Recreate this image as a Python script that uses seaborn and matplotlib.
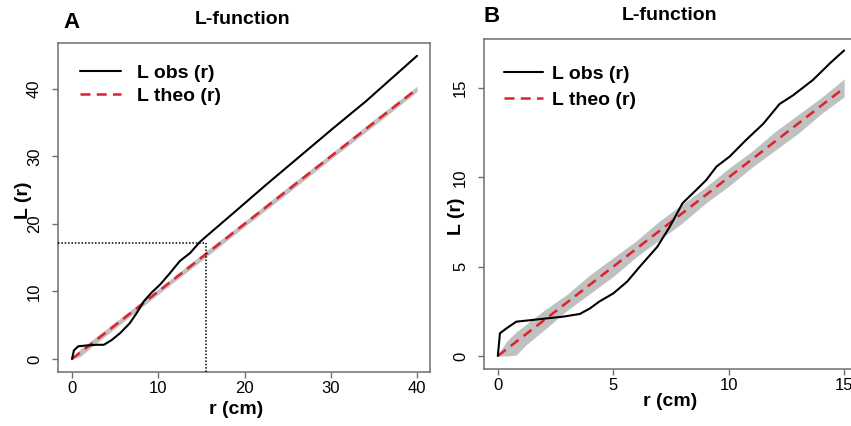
import matplotlib
matplotlib.use("Agg")
import matplotlib.pyplot as plt
import seaborn as sns
import pandas as pd

# ---------------- data ----------------
# Panel A : observed L-function
r_obs_A = [0, 0.23, 0.73, 1.7, 2.85, 3.7, 4.6, 5.6, 6.7, 7.5, 8.3, 9.2, 10.2,
           11.35, 12.5, 13.7, 14.8, 15.6, 18.7, 22.5, 26.4, 30.3, 34.1, 37.0, 40.0]
L_obs_A = [0, 1.28, 1.88, 2.0, 2.1, 2.1, 2.8, 3.85, 5.3, 6.8, 8.5, 9.8, 11.0,
           12.7, 14.5, 15.7, 17.3, 18.2, 21.6, 25.8, 30.0, 34.2, 38.2, 41.5, 44.9]
# Panel A : theoretical line and envelope
r_theo_A = [0, 40]
L_theo_A = [0, 40]
r_env_A = [0, 1, 2, 5, 10, 15, 20, 25, 30, 35, 40]
hi_env_A = [0.3, 1.5, 2.5, 5.45, 10.4, 15.45, 20.4, 25.45, 30.4, 35.45, 40.4]
lo_env_A = [0.0, 0.4, 1.5, 4.55, 9.6, 14.55, 19.6, 24.55, 29.6, 34.55, 39.6]
# dotted reference lines in A
ref_r_A = 15.5
ref_L_A = 17.2

# Panel B : observed L-function
r_obs_B = [0, 0.09, 0.38, 0.8, 1.4, 2.1, 2.83, 3.55, 4.0, 4.4, 5.0, 5.6, 6.15,
           6.9, 7.45, 8.0, 8.6, 9.03, 9.47, 10.04, 10.76, 11.5, 12.2, 12.8,
           13.65, 14.4, 15.0]
L_obs_B = [0, 1.27, 1.55, 1.92, 2.0, 2.1, 2.2, 2.35, 2.67, 3.05, 3.5, 4.16, 5.0,
           6.1, 7.24, 8.55, 9.3, 9.85, 10.6, 11.16, 12.1, 13.0, 14.1, 14.6,
           15.45, 16.4, 17.1]
# Panel B : theoretical line and envelope
r_theo_B = [0, 15]
L_theo_B = [0, 15]
r_env_B = [0, 0.4, 0.8, 1.2, 2, 3, 4, 5, 6, 7, 8, 9, 10, 11, 12, 13, 14, 15]
hi_env_B = [0.1, 0.85, 1.35, 1.75, 2.55, 3.45, 4.55, 5.5, 6.45, 7.55, 8.5, 9.45,
            10.5, 11.45, 12.55, 13.5, 14.45, 15.5]
lo_env_B = [0.0, 0.0, 0.05, 0.6, 1.45, 2.55, 3.5, 4.45, 5.55, 6.5, 7.45, 8.55,
            9.5, 10.55, 11.5, 12.45, 13.55, 14.5]

xticks_A = [0, 10, 20, 30, 40]
yticks_A = [0, 10, 20, 30, 40]
xticks_B = [0, 5, 10, 15]
yticks_B = [0, 5, 10, 15]

title_text = "L-function"
xlabel_text = "r (cm)"
ylabel_text = "L (r)"
legend_labels = ["L obs (r)", "L theo (r)"]

# ---------------- style ----------------
sns.set_theme(style="ticks")
plt.rcParams["font.family"] = ["Liberation Sans", "DejaVu Sans"]
plt.rcParams["text.color"] = "black"
plt.rcParams["xtick.labelcolor"] = "black"
plt.rcParams["ytick.labelcolor"] = "black"

FRAME = "#6e6e6e"
RED = "#e0202a"
GREY = "#c0c0c0"

fig = plt.figure(figsize=(8.51, 4.26), dpi=100)
W, H = 851, 426


def ax_rect(l, t, r, b):
    return [l / W, 1 - b / H, (r - l) / W, (b - t) / H]


axA = fig.add_axes(ax_rect(58, 43, 430, 372))
axB = fig.add_axes(ax_rect(484, 39, 858, 369))


def draw(ax, r_obs, L_obs, r_theo, L_theo, r_env, lo, hi, xlim, ylim, xt, yt):
    ax.fill_between(r_env, lo, hi, color=GREY, lw=0, zorder=1)
    sns.lineplot(x=r_obs, y=L_obs, ax=ax, color="black", lw=1.5,
                 label=legend_labels[0], zorder=3, sort=False, estimator=None)
    sns.lineplot(x=r_theo, y=L_theo, ax=ax, color=RED, lw=1.8,
                 label=legend_labels[1], zorder=2, sort=False, estimator=None,
                 dashes=False)
    ax.lines[-1].set_linestyle((0, (4, 2.5)))
    ax.set_xlim(*xlim)
    ax.set_ylim(*ylim)
    ax.set_xticks(xt)
    ax.set_yticks(yt)
    ax.set_xticklabels([str(v) for v in xt], fontsize=12, color="black")
    ax.set_yticklabels([str(v) for v in yt], fontsize=12, rotation=90, va="center",
                       color="black")
    ax.tick_params(axis="x", length=4.5, width=1, color=FRAME, pad=2)
    ax.tick_params(axis="y", length=4.5, width=1, color=FRAME, pad=7)
    for s in ax.spines.values():
        s.set_visible(True)
        s.set_color(FRAME)
        s.set_linewidth(1.1)
    ax.set_xlabel("")
    ax.set_ylabel("")


draw(axA, r_obs_A, L_obs_A, r_theo_A, L_theo_A, r_env_A, lo_env_A, hi_env_A,
     (-1.62, 41.5), (-1.93, 46.8), xticks_A, yticks_A)
draw(axB, r_obs_B, L_obs_B, r_theo_B, L_theo_B, r_env_B, lo_env_B, hi_env_B,
     (-0.6, 15.6), (-0.73, 17.74), xticks_B, yticks_B)

# dotted reference lines in A
axA.plot([-1.62, ref_r_A], [ref_L_A, ref_L_A], color="black", lw=1.1,
         linestyle=(0, (1, 1.2)), zorder=4)
axA.plot([ref_r_A, ref_r_A], [-1.93, ref_L_A], color="black", lw=1.1,
         linestyle=(0, (1, 1.2)), zorder=4)

# legends
for ax, (lx, ly), hl, tp, ls in ((axA, (80, 64), 2.1, 0.85, 0.3),
                                 (axB, (504, 65), 2.0, 0.45, 0.45)):
    handles, labels = ax.get_legend_handles_labels()
    leg = ax.legend(handles, labels, loc="upper left",
                    bbox_to_anchor=(lx / W, 1 - ly / H), bbox_transform=fig.transFigure,
                    frameon=False, prop={"weight": "bold", "size": 14},
                    handlelength=hl, handletextpad=tp, labelspacing=ls,
                    borderaxespad=0, borderpad=0)
    for t in leg.get_texts():
        t.set_color("black")

# titles and labels as figure text
bold = dict(fontweight="bold", color="black")
fig.text(71 / W, 1 - 23 / H, "A", fontsize=16, ha="center", va="center", **bold)
fig.text(243 / W, 1 - 20 / H, title_text, fontsize=14, ha="center", va="center", **bold)
fig.text(492 / W, 1 - 16 / H, "B", fontsize=16, ha="center", va="center", **bold)
fig.text(670 / W, 1 - 15 / H, title_text, fontsize=14, ha="center", va="center", **bold)

fig.text(236 / W, 1 - 409 / H, xlabel_text, fontsize=14, ha="center", va="center", **bold)
fig.text(670 / W, 1 - 402 / H, xlabel_text, fontsize=14, ha="center", va="center", **bold)
fig.text(23 / W, 1 - 200 / H, ylabel_text, fontsize=14, ha="center", va="center",
         rotation=90, **bold)
fig.text(457 / W, 1 - 216 / H, ylabel_text, fontsize=14, ha="center", va="center",
         rotation=90, **bold)

fig.savefig("out.png", dpi=100)
